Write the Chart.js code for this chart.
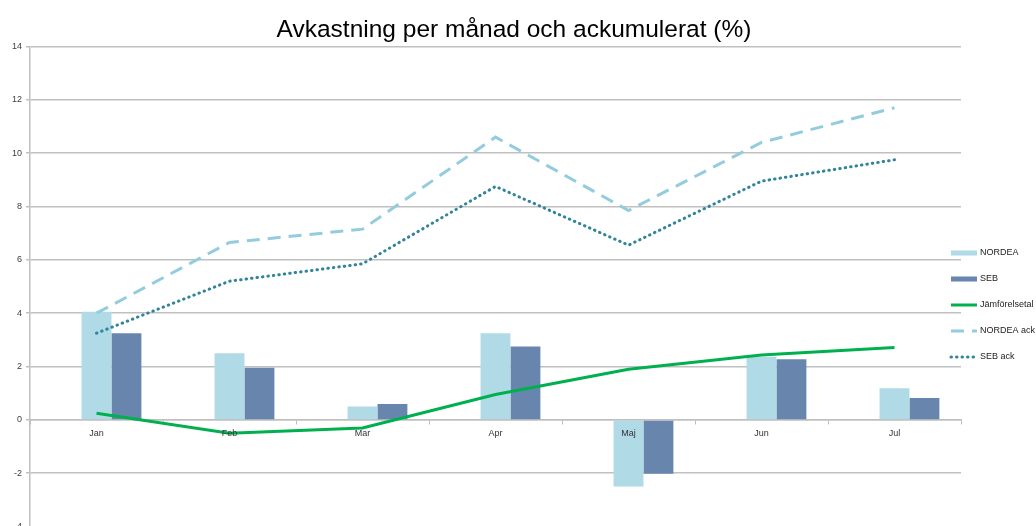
<!DOCTYPE html>
<html lang="sv">
<head>
    <meta charset="UTF-8">
    <title>Avkastning per månad och ackumulerat (%)</title>
    <script src="https://cdn.jsdelivr.net/npm/chart.js"></script>
    <style>
        html, body { margin: 0; padding: 0; background: #fff; overflow: hidden; }
        #wrap { width: 1036px; height: 526px; overflow: hidden; }
    </style>
</head>
<body>
<div id="wrap"><canvas id="myChart" width="1036" height="536"></canvas></div>

<script>
    // Values
    const months = ['Jan', 'Feb', 'Mar', 'Apr', 'Maj', 'Jun', 'Jul'];
    const nordea = [4.05, 2.5, 0.5, 3.25, -2.5, 2.37, 1.19];
    const seb = [3.25, 1.95, 0.6, 2.75, -2.02, 2.27, 0.82];
    const jamforelsetal = [0.25, -0.5, -0.3, 0.95, 1.9, 2.43, 2.71];
    const nordeaAck = [4.0, 6.65, 7.15, 10.6, 7.85, 10.4, 11.7];
    const sebAck = [3.25, 5.2, 5.85, 8.75, 6.55, 8.95, 9.75];
    const emptySlot = [null, null, null, null, null, null, null];

    const font = '"Liberation Sans", Arial, sans-serif';

    // legend drawn at the right edge, like Excel does it
    const sideLegend = {
        id: 'sideLegend',
        afterDraw(chart, args, opts) {
            const ctx = chart.ctx;
            ctx.save();
            ctx.font = '9px ' + font;
            ctx.textBaseline = 'middle';
            let y = opts.top;
            chart.data.datasets.forEach(ds => {
                if (!ds.label) return;
                const x = opts.left;
                if (ds.type === 'bar') {
                    ctx.fillStyle = ds.backgroundColor;
                    ctx.fillRect(x, y - 2.5, opts.boxWidth, 5);
                } else {
                    ctx.beginPath();
                    ctx.strokeStyle = ds.borderColor;
                    ctx.lineWidth = ds.borderWidth;
                    ctx.lineCap = ds.borderCapStyle || 'butt';
                    ctx.setLineDash(ds.borderDash || []);
                    ctx.moveTo(x, y);
                    ctx.lineTo(x + opts.boxWidth, y);
                    ctx.stroke();
                    ctx.setLineDash([]);
                }
                ctx.fillStyle = '#222';
                ctx.fillText(ds.label, x + opts.boxWidth + 3, y);
                y += opts.spacing;
            });
            ctx.restore();
        }
    };

    const ctx = document.getElementById('myChart').getContext('2d');
    const myChart = new Chart(ctx, {
        type: 'bar',
        data: {
            labels: months,
            datasets: [
                {
                    // empty first slot so the bar pair sits right of the label
                    type: 'bar',
                    label: '',
                    data: emptySlot,
                    order: 1
                },
                {
                    type: 'bar',
                    label: 'NORDEA',
                    data: nordea,
                    backgroundColor: '#b0dae6',
                    order: 1
                },
                {
                    type: 'bar',
                    label: 'SEB',
                    data: seb,
                    backgroundColor: '#6886ad',
                    order: 1
                },
                {
                    type: 'line',
                    label: 'Jämförelsetal',
                    data: jamforelsetal,
                    borderColor: '#00b04f',
                    borderWidth: 3,
                    pointRadius: 0,
                    tension: 0,
                    order: 0
                },
                {
                    type: 'line',
                    label: 'NORDEA ack',
                    data: nordeaAck,
                    borderColor: '#93cddd',
                    borderWidth: 3,
                    borderDash: [13, 8],
                    pointRadius: 0,
                    tension: 0,
                    order: 0
                },
                {
                    type: 'line',
                    label: 'SEB ack',
                    data: sebAck,
                    borderColor: '#31849b',
                    borderWidth: 3,
                    borderDash: [0.5, 5],
                    borderCapStyle: 'round',
                    pointRadius: 0,
                    tension: 0,
                    order: 0
                }
            ]
        },
        options: {
            responsive: false,
            animation: false,
            layout: { padding: { left: 8, right: 16, top: 0, bottom: 0 } },
            datasets: {
                bar: { categoryPercentage: 0.675, barPercentage: 1 }
            },
            plugins: {
                legend: { display: false },
                tooltip: { enabled: false },
                title: {
                    display: true,
                    text: 'Avkastning per månad och ackumulerat (%)',
                    color: '#000',
                    font: { family: font, size: 24.5, weight: 'normal' },
                    padding: { top: 16, bottom: 1 }
                },
                sideLegend: { left: 951, top: 253, spacing: 26, boxWidth: 26 }
            },
            scales: {
                x: {
                    position: { y: 0 },
                    grid: {
                        drawOnChartArea: false,
                        drawTicks: true,
                        tickLength: 4,
                        color: '#bfbfbf',
                        lineWidth: 1
                    },
                    border: { color: '#bfbfbf', width: 1.5 },
                    ticks: {
                        z: 1,
                        autoSkip: false,
                        maxRotation: 0,
                        color: '#333',
                        font: { family: font, size: 9 },
                        padding: 4
                    }
                },
                y: {
                    min: -4,
                    max: 14,
                    ticks: {
                        stepSize: 2,
                        color: '#404040',
                        font: { family: font, size: 9 },
                        padding: 4
                    },
                    grid: {
                        color: '#c0c0c0',
                        lineWidth: 1.5,
                        tickLength: 4
                    },
                    border: { color: '#c0c0c0', width: 1.5 }
                },
                // empty right axis that keeps room for the legend
                yLegend: {
                    position: 'right',
                    min: -4,
                    max: 14,
                    grid: { display: false },
                    border: { display: false },
                    ticks: { display: false },
                    afterFit(scale) { scale.width = 59; }
                }
            }
        },
        plugins: [sideLegend]
    });
</script>
</body>
</html>
